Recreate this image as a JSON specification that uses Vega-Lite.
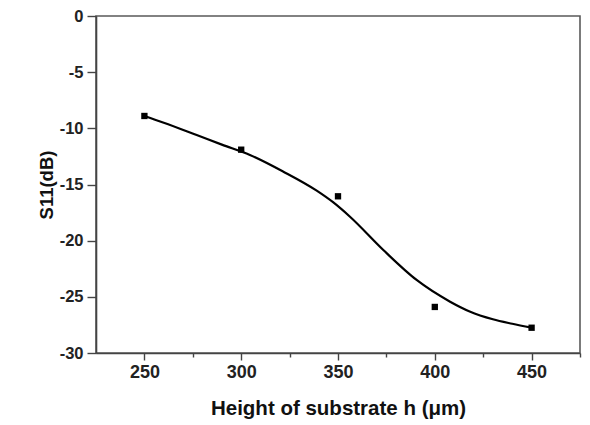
{
  "$schema": "https://vega.github.io/schema/vega-lite/v6.json",
  "width": 484,
  "height": 337,
  "autosize": {"type": "none"},
  "padding": {"left": 96, "top": 16, "right": 10, "bottom": 72},
  "background": "white",
  "config": {
    "view": {"stroke": "#5a5a5a", "strokeWidth": 1.6},
    "axis": {
      "domainColor": "#444444",
      "domainWidth": 1.6,
      "tickColor": "#444444",
      "tickWidth": 1.4,
      "grid": false,
      "labelFont": "Liberation Sans",
      "labelFontWeight": "bold",
      "labelColor": "#222222",
      "titleFont": "Liberation Sans",
      "titleFontWeight": "bold",
      "titleColor": "#111111"
    }
  },
  "datasets": {
    "points": [
      {"h": 250, "s11": -8.9},
      {"h": 300, "s11": -11.9},
      {"h": 350, "s11": -16.05},
      {"h": 400, "s11": -25.9},
      {"h": 450, "s11": -27.75}
    ],
    "fit": [
      {"h": 250, "s11": -8.9},
      {"h": 260, "s11": -9.5},
      {"h": 277, "s11": -10.6},
      {"h": 290, "s11": -11.45},
      {"h": 304.5, "s11": -12.37},
      {"h": 321.8, "s11": -13.86},
      {"h": 339, "s11": -15.55},
      {"h": 347.6, "s11": -16.6},
      {"h": 356.2, "s11": -17.87},
      {"h": 373.4, "s11": -20.83},
      {"h": 390.6, "s11": -23.5},
      {"h": 407.9, "s11": -25.43},
      {"h": 418, "s11": -26.3},
      {"h": 430, "s11": -27.0},
      {"h": 440, "s11": -27.4},
      {"h": 450, "s11": -27.75}
    ]
  },
  "layer": [
    {
      "data": {"name": "fit"},
      "mark": {"type": "line", "interpolate": "monotone", "color": "black", "strokeWidth": 2.2},
      "encoding": {
        "x": {
          "field": "h", "type": "quantitative",
          "scale": {"domain": [225, 475], "nice": false},
          "axis": {
            "title": "Height of substrate h (μm)",
            "values": [250, 275, 300, 325, 350, 375, 400, 425, 450, 475],
            "labelExpr": "datum.value % 50 === 0 && datum.value < 475 ? toString(datum.value) : ''",
            "tickSize": {"expr": "datum.value % 50 === 0 ? 7 : 4"},
            "labelFontSize": 18,
            "labelPadding": 3,
            "titleFontSize": 20.5,
            "titlePadding": 17
          }
        },
        "y": {
          "field": "s11", "type": "quantitative",
          "scale": {"domain": [-30, 0], "nice": false},
          "axis": {
            "title": "S11(dB)",
            "values": [0, -2.5, -5, -7.5, -10, -12.5, -15, -17.5, -20, -22.5, -25, -27.5, -30],
            "labelExpr": "datum.value % 5 === 0 ? toString(datum.value) : ''",
            "tickSize": {"expr": "datum.value % 5 === 0 ? 9 : 3"},
            "labelFontSize": 16.5,
            "labelPadding": 4,
            "titleFontSize": 18.5,
            "titlePadding": 3
          }
        }
      }
    },
    {
      "data": {"name": "points"},
      "mark": {"type": "square", "color": "black", "opacity": 1, "size": 40},
      "encoding": {
        "x": {"field": "h", "type": "quantitative"},
        "y": {"field": "s11", "type": "quantitative"}
      }
    }
  ]
}
